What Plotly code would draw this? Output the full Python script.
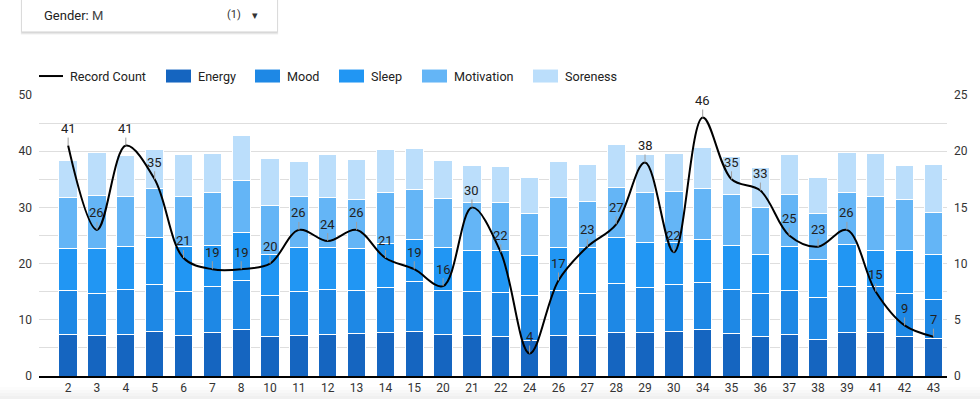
import plotly.graph_objects as go

categories = ["2", "3", "4", "5", "6", "7", "8", "10", "11", "12", "13", "14", "15", "20", "21", "22",
              "24", "26", "27", "28", "29", "30", "34", "35", "36", "37", "38", "39", "41", "42", "43"]

record_count = [41, 26, 41, 35, 21, 19, 19, 20, 26, 24, 26, 21, 19, 16, 30, 22,
                4, 17, 23, 27, 38, 22, 46, 35, 33, 25, 23, 26, 15, 9, 7]

energy = [7.3, 7.2, 7.3, 8.0, 7.2, 7.7, 8.2, 7.1, 7.2, 7.3, 7.5, 7.8, 7.9, 7.3, 7.2, 7.0,
          6.4, 7.2, 7.2, 7.7, 7.8, 7.9, 8.2, 7.6, 7.0, 7.4, 6.5, 7.7, 7.7, 7.0, 6.6]
mood = [8.0, 7.5, 8.1, 8.3, 7.9, 8.2, 8.8, 7.3, 7.9, 8.1, 7.7, 7.9, 8.9, 8.0, 7.8, 7.9,
        8.0, 8.1, 7.5, 8.8, 7.9, 8.4, 8.4, 7.8, 7.6, 7.9, 7.4, 8.2, 8.2, 7.7, 7.0]
sleep = [7.3, 7.9, 7.6, 8.3, 7.9, 7.4, 8.6, 7.2, 7.8, 7.5, 7.4, 7.9, 7.5, 7.5, 7.4, 7.5,
         7.0, 7.5, 8.2, 8.1, 8.0, 7.4, 7.7, 7.8, 7.1, 7.8, 6.8, 7.5, 6.4, 7.6, 8.0]
motivation = [9.1, 9.5, 9.0, 8.8, 8.9, 9.4, 9.1, 8.8, 9.1, 8.8, 8.8, 9.1, 8.9, 8.7, 8.4, 8.4,
              7.6, 9.0, 8.2, 9.0, 9.0, 9.2, 9.1, 9.1, 8.3, 9.2, 8.2, 9.2, 9.6, 9.1, 7.5]
soreness = [6.7, 7.7, 7.2, 6.9, 7.5, 6.9, 8.1, 8.3, 6.2, 7.7, 7.2, 7.6, 7.2, 6.9, 6.7, 6.4,
            6.4, 6.3, 6.6, 7.6, 6.7, 6.7, 7.2, 6.7, 7.1, 7.1, 6.4, 7.2, 7.7, 6.1, 8.6]

left_ticks = [0, 10, 20, 30, 40, 50]
right_ticks = [0, 5, 10, 15, 20, 25]

series_names = ["Energy", "Mood", "Sleep", "Motivation", "Soreness"]
series_values = [energy, mood, sleep, motivation, soreness]
series_colors = ["#1565C0", "#1E88E5", "#2196F3", "#64B5F6", "#BBDEFB"]

FONT = "Roboto, Arial, sans-serif"

fig = go.Figure()
fig.add_trace(go.Scatter(
    x=categories, y=record_count, name="Record Count", mode="lines",
    line=dict(color="black", width=2, shape="spline", smoothing=1.0),
    hoverinfo="x+y",
))
for name, vals, color in zip(series_names, series_values, series_colors):
    fig.add_trace(go.Bar(
        x=categories, y=vals, name=name, marker_color=color,
        marker_line=dict(color="white", width=1),
    ))
# right axis (shown only for its scale)
fig.add_trace(go.Scatter(x=[categories[0]], y=[None], yaxis="y2", showlegend=False,
                         mode="lines", hoverinfo="skip"))

# data labels (category axis: annotation x is the category index)
for i, v in enumerate(record_count):
    fig.add_annotation(
        x=i, y=v, xref="x", yref="y", text=str(v), showarrow=True,
        arrowhead=0, arrowwidth=1, arrowcolor="#9e9e9e", ax=0, ay=-17,
        standoff=0, font=dict(family=FONT, size=13, color="#212121"),
    )

# plot area in pixels: x 39..947, y 94.5..376
W, H = 908.0, 281.5
def px(xp):
    return (xp - 39) / W
def py(yp):
    return (376 - yp) / H

shapes = []
# filter card shadow + card
for off, col in [(3, "#efefef"), (2, "#e0e0e0"), (1, "#d0d0d0")]:
    shapes.append(dict(type="rect", xref="paper", yref="paper",
                       x0=px(22 - off * 0.4), x1=px(277 + off * 0.4), y0=py(31 + off), y1=py(-5),
                       line=dict(width=0), fillcolor=col, layer="above"))
shapes.append(dict(type="rect", xref="paper", yref="paper",
                   x0=px(22), x1=px(277), y0=py(31), y1=py(-5),
                   line=dict(width=0), fillcolor="white", layer="above"))
# bottom card shadow
for i, col in enumerate(["#fcfcfc", "#f8f8f8", "#f4f4f4", "#f0f0f0"]):
    y0 = 387 + i * 3
    shapes.append(dict(type="rect", xref="paper", yref="paper",
                       x0=px(0), x1=px(980), y0=py(y0 + 3), y1=py(y0),
                       line=dict(width=0), fillcolor=col, layer="below"))

# legend drawn like the reference (wide swatches)
LEG_Y = 75.5
LEG_FONT = dict(family=FONT, size=12.6, color="#222")
shapes.append(dict(type="line", xref="paper", yref="paper", x0=px(39), x1=px(63),
                   y0=py(LEG_Y), y1=py(LEG_Y), line=dict(color="black", width=2), layer="above"))
fig.add_annotation(xref="paper", yref="paper", x=px(68), y=py(LEG_Y), xanchor="left",
                   yanchor="middle", text="Record Count", showarrow=False, font=LEG_FONT)
legend_box_x = [166, 255, 339, 422, 533]
for bx, name, color in zip(legend_box_x, series_names, series_colors):
    shapes.append(dict(type="rect", xref="paper", yref="paper", x0=px(bx), x1=px(bx + 25),
                       y0=py(LEG_Y + 6.5), y1=py(LEG_Y - 6.5), fillcolor=color,
                       line=dict(width=0), layer="above"))
    fig.add_annotation(xref="paper", yref="paper", x=px(bx + 30), y=py(LEG_Y), xanchor="left",
                       yanchor="middle", text=name, showarrow=False, font=LEG_FONT)
fig.update_layout(shapes=shapes)

fig.add_annotation(xref="paper", yref="paper", x=px(42), y=py(15), xanchor="left", yanchor="middle",
                   text="Gender: <span style='color:#444'>M</span>", showarrow=False,
                   font=dict(family=FONT, size=13, color="#222"))
fig.add_annotation(xref="paper", yref="paper", x=px(243), y=py(14), xanchor="right", yanchor="middle",
                   text="(1)", showarrow=False, font=dict(family=FONT, size=11, color="#333"))
fig.add_annotation(xref="paper", yref="paper", x=px(255), y=py(15), xanchor="center", yanchor="middle",
                   text="▾", showarrow=False, font=dict(family=FONT, size=11, color="#333"))

fig.update_layout(
    width=980, height=399,
    margin=dict(l=39, r=33, t=94.5, b=23, pad=0, autoexpand=False),
    paper_bgcolor="white", plot_bgcolor="white",
    barmode="stack", bargap=0.365,
    font=dict(family=FONT, size=12, color="#333"),
    showlegend=False,
    xaxis=dict(type="category", range=[-1.01, 30.47], showgrid=False, showline=True,
               linecolor="black", linewidth=1.5, ticks="", tickfont=dict(size=12, color="#333"),
               fixedrange=True),
    yaxis=dict(range=[0, 50], tickvals=left_ticks, showgrid=True, gridcolor="#dedede",
               gridwidth=1, zeroline=False, showline=False, ticks="",
               minor=dict(dtick=5, showgrid=True, gridcolor="#dedede", gridwidth=1),
               tickfont=dict(size=12, color="#333"), ticklabelstandoff=6),
    yaxis2=dict(range=[0, 25], tickvals=right_ticks, overlaying="y", side="right",
                showgrid=False, zeroline=False, showline=False, ticks="",
                tickfont=dict(size=12, color="#333"), ticklabelstandoff=6),
)

fig.write_html("out.html", config={"displayModeBar": False},
               post_script="document.body.style.margin='0px';")
